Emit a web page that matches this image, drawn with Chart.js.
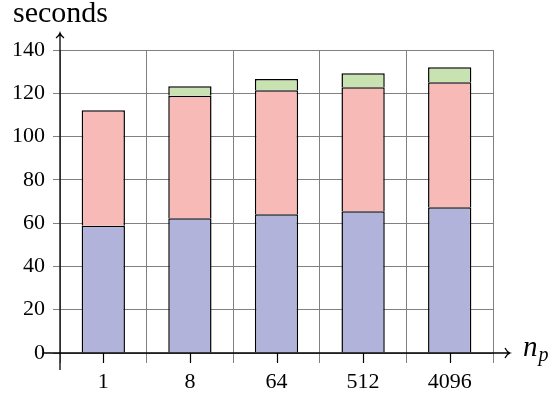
<!DOCTYPE html>
<html>
<head>
<meta charset="utf-8">
<script src="https://cdn.jsdelivr.net/npm/chart.js@4"></script>
<style>
  body { margin: 0; background: #fff; }
  canvas { display: block; }
</style>
</head>
<body>
<canvas id="chart" width="559" height="398"></canvas>
<script>
const categories = ['1', '8', '64', '512', '4096'];
const blueValues = [58.8, 62.3, 64.1, 65.5, 67.4];
const pinkValues = [53.4, 56.6, 57.3, 57.3, 57.7];
const greenValues = [0, 4.3, 5.2, 6.4, 6.9];
const yMin = 0, yMax = 140, yStep = 20;
const yTitle = 'seconds';
const xTitle = 'n';
const xTitleSub = 'p';

const serif = '"Liberation Serif", "Times New Roman", serif';

// axis lines with arrows, centre ticks and axis names
const axesPlugin = {
    id: 'axes',
    afterDraw(chart) {
        const ctx = chart.ctx;
        const a = chart.chartArea;
        const xs = chart.scales.x;
        ctx.save();
        ctx.strokeStyle = '#000';
        ctx.lineWidth = 1.3;
        ctx.beginPath();
        // x axis
        ctx.moveTo(a.left - 17, a.bottom);
        ctx.lineTo(a.right + 17, a.bottom);
        ctx.moveTo(a.right + 12, a.bottom - 5);
        ctx.quadraticCurveTo(a.right + 14, a.bottom - 1, a.right + 17, a.bottom);
        ctx.quadraticCurveTo(a.right + 14, a.bottom + 1, a.right + 12, a.bottom + 5);
        // y axis
        ctx.moveTo(a.left, a.bottom + 17);
        ctx.lineTo(a.left, a.top - 17);
        ctx.moveTo(a.left - 4, a.top - 12);
        ctx.quadraticCurveTo(a.left - 1, a.top - 14, a.left, a.top - 17);
        ctx.quadraticCurveTo(a.left + 1, a.top - 14, a.left + 4, a.top - 12);
        ctx.stroke();

        ctx.lineWidth = 1.2;
        ctx.beginPath();
        categories.forEach((c, i) => {
            const x = Math.round(xs.getPixelForValue(i)) + 0.5;
            ctx.moveTo(x, a.bottom);
            ctx.lineTo(x, a.bottom + 10);
        });
        ctx.stroke();

        ctx.fillStyle = '#000';
        ctx.textBaseline = 'alphabetic';
        ctx.font = '30px ' + serif;
        ctx.fillText(yTitle, 13, 22);
        ctx.font = 'italic 29px ' + serif;
        ctx.fillText(xTitle, a.right + 30, a.bottom + 3);
        const w = ctx.measureText(xTitle).width;
        ctx.font = 'italic 20px ' + serif;
        ctx.fillText(xTitleSub, a.right + 30 + w + 1, a.bottom + 8);
        ctx.restore();
    }
};

const ctx = document.getElementById('chart').getContext('2d');
new Chart(ctx, {
    type: 'bar',
    data: {
        labels: categories,
        datasets: [{
            data: blueValues,
            backgroundColor: '#b1b3da',
        }, {
            data: pinkValues,
            backgroundColor: '#f8bab7',
        }, {
            data: greenValues,
            backgroundColor: '#c8e2b1',
        }].map(d => Object.assign(d, {
            borderColor: '#000',
            borderWidth: 1.5,
            borderSkipped: 'bottom',
            barPercentage: 0.5,
            categoryPercentage: 1.0,
        }))
    },
    options: {
        responsive: false,
        animation: false,
        layout: { padding: { top: 50, right: 66, bottom: 0, left: 0 } },
        plugins: {
            legend: { display: false },
            tooltip: { enabled: false },
        },
        scales: {
            x: {
                stacked: true,
                afterFit: scale => { scale.height = 45; },
                border: { display: false },
                grid: { color: '#808080', lineWidth: 1, tickLength: 10, offset: true },
                ticks: { color: '#000', font: { family: serif, size: 22 }, padding: 6, maxRotation: 0 },
            },
            y: {
                stacked: true,
                min: yMin,
                max: yMax,
                afterFit: scale => { scale.width = 60; },
                border: { display: false },
                grid: { color: '#808080', lineWidth: 1, tickLength: 7 },
                ticks: { stepSize: yStep, color: '#000', font: { family: serif, size: 22 }, padding: 8 },
            }
        }
    },
    plugins: [axesPlugin]
});
</script>
</body>
</html>
